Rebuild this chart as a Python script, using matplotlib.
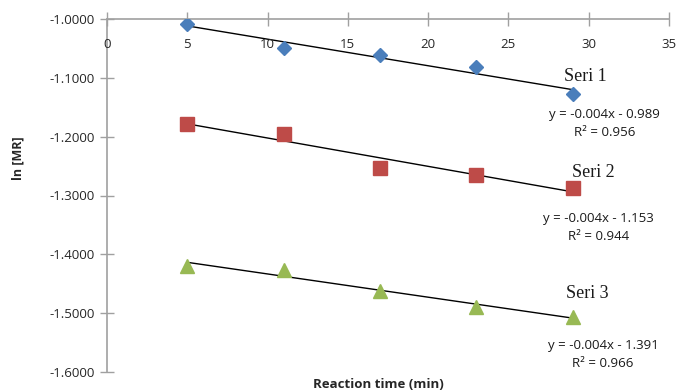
import matplotlib
matplotlib.use("Agg")
import matplotlib.pyplot as plt
import numpy as np

time_min = [5, 11, 17, 23, 29]
seri1 = [-1.0085, -1.0500, -1.0610, -1.0820, -1.1280]
seri2 = [-1.1780, -1.1950, -1.2540, -1.2660, -1.2870]
seri3 = [-1.4200, -1.4260, -1.4630, -1.4890, -1.5070]
series_names = ["Seri 1", "Seri 2", "Seri 3"]
equations = ["y = -0.004x - 0.989\nR\u00b2 = 0.956",
             "y = -0.004x - 1.153\nR\u00b2 = 0.944",
             "y = -0.004x - 1.391\nR\u00b2 = 0.966"]
x_ticks = [0, 5, 10, 15, 20, 25, 30, 35]
y_ticks = [-1.6, -1.5, -1.4, -1.3, -1.2, -1.1, -1.0]

plt.rcParams['font.family'] = ['Open Sans', 'DejaVu Sans']

fig = plt.figure(figsize=(6.78, 3.91), dpi=100)
ax = fig.add_axes([107/678, 1-372/391, (669-107)/678, (372-19)/391])

colors = ["#4A7EBB", "#BE4B48", "#98B954"]
markers = ["D", "s", "^"]
msizes = [7, 10, 10]
label_pos = [(29.8, -1.097), (30.3, -1.261), (29.9, -1.466)]
eq_pos = [(31.0, -1.178), (30.6, -1.354), (30.9, -1.571)]

x = np.array(time_min, dtype=float)
for ys, c, m, ms, name, eq, lp, ep in zip([seri1, seri2, seri3], colors, markers, msizes,
                                          series_names, equations, label_pos, eq_pos):
    y = np.array(ys)
    ax.plot(x, y, linestyle="none", marker=m, color=c, markersize=ms, zorder=3)
    k, b = np.polyfit(x, y, 1)
    ax.plot([x[0], x[-1]], [k*x[0]+b, k*x[-1]+b], color="black", lw=1.0, zorder=2)
    ax.text(lp[0], lp[1], name, fontsize=13, family=["Liberation Serif"],
            ha="center", va="center", color="#1a1a1a")
    ax.text(ep[0], ep[1], eq, fontsize=9.5, ha="center", va="center",
            linespacing=1.5, color="#1a1a1a")

ax.set_xlim(0, 35)
ax.set_ylim(-1.6, -1.0)
ax.set_xticks(x_ticks)
ax.set_yticks(y_ticks)
ax.set_yticklabels([f"{v:.4f}" for v in y_ticks])
ax.xaxis.set_ticks_position("top")
ax.tick_params(axis="x", direction="inout", length=10, color="#A0A0A0",
               labeltop=False, labelbottom=False, width=1)
ax.tick_params(axis="y", direction="inout", length=10, color="#A0A0A0",
               labelsize=9.5, labelcolor="#262626", width=1, pad=4)
for xt in x_ticks:
    ax.text(xt, -1.044, str(xt), ha="center", va="center", fontsize=9.5, color="#262626")

for s in ["right", "bottom"]:
    ax.spines[s].set_visible(False)
for s in ["left", "top"]:
    ax.spines[s].set_color("#A0A0A0")
    ax.spines[s].set_linewidth(1.2)
ax.set_facecolor("none")

fig.text(18/678, 1-158/391, "ln [MR]", rotation=90, ha="center", va="center",
         fontsize=9, fontweight="bold", color="#262626")
fig.text(378/678, 1-385/391, "Reaction time (min)", ha="center", va="center",
         fontsize=9.5, fontweight="bold", color="#262626")

fig.savefig("out.png", dpi=100)
